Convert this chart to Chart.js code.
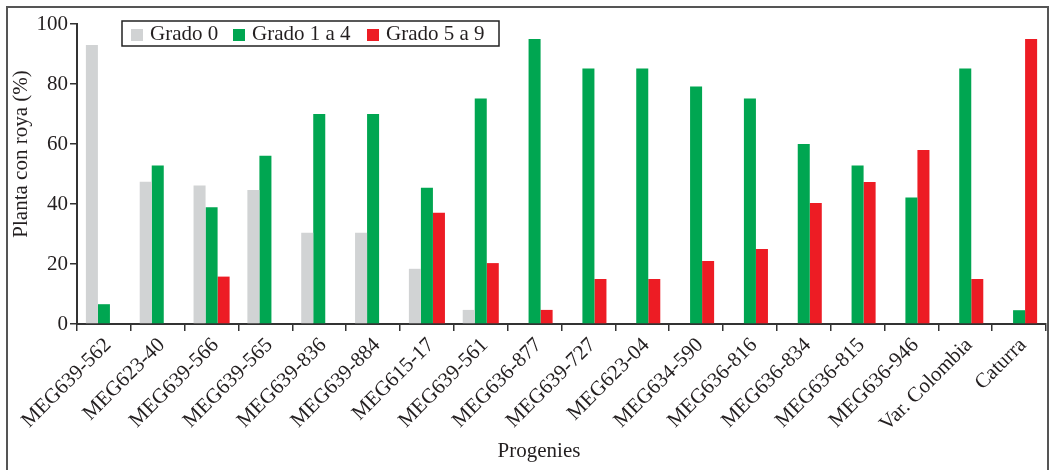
<!DOCTYPE html>
<html>
<head>
<meta charset="utf-8">
<script src="https://cdn.jsdelivr.net/npm/chart.js@4/dist/chart.umd.min.js"></script>
<style>
  html, body { margin: 0; padding: 0; background: #fff; overflow: hidden; }
  #wrap { position: relative; width: 1053px; height: 470px; }
  #frame { position: absolute; left: 6px; top: 6px; width: 1043px; height: 600px;
           border: 2px solid #555; box-sizing: border-box; }
  canvas { position: absolute; left: 0; top: 0; }
</style>
</head>
<body>
<div id="wrap">
  <div id="frame"></div>
  <canvas id="c" width="1053" height="470"></canvas>
</div>
<script>
// Progenies evaluated and share of plants with rust (%) per severity grade
const categories = [
  'MEG639-562', 'MEG623-40', 'MEG639-566', 'MEG639-565', 'MEG639-836',
  'MEG639-884', 'MEG615-17', 'MEG639-561', 'MEG636-877', 'MEG639-727',
  'MEG623-04', 'MEG634-590', 'MEG636-816', 'MEG636-834', 'MEG636-815',
  'MEG636-946', 'Var. Colombia', 'Caturra'
];
const grado0  = [93.0, 47.4, 46.2, 44.7, 30.4, 30.4, 18.4, 4.7, 0, 0, 0, 0, 0, 0, 0, 0, 0, 0];
const grado14 = [6.6, 52.8, 38.9, 56.1, 70.0, 70.0, 45.4, 75.2, 95.0, 85.2, 85.2, 79.2, 75.2, 60.0, 52.8, 42.2, 85.2, 4.6];
const grado59 = [0, 0, 15.8, 0, 0, 0, 37.1, 20.3, 4.7, 15.0, 15.0, 21.0, 25.0, 40.3, 47.3, 58.0, 15.0, 95.0];
const yTicks  = [0, 20, 40, 60, 80, 100];

const seriesNames = ['Grado 0', 'Grado 1 a 4', 'Grado 5 a 9'];
const seriesColors = ['#d1d3d4', '#00a651', '#ed1c24'];

const FONT = '"Liberation Serif", "Times New Roman", serif';
const INK = '#231f20';

// Boxed legend in the upper left of the plot and the two axis titles
const decorations = {
  id: 'decorations',
  afterDraw(chart) {
    const ctx = chart.ctx;
    const area = chart.chartArea;
    ctx.save();
    // legend box
    const bx = area.left + 45, by = area.top - 3, bw = 377, bh = 25;
    ctx.strokeStyle = '#222';
    ctx.lineWidth = 1.5;
    ctx.strokeRect(bx, by, bw, bh);
    ctx.font = '21px ' + FONT;
    ctx.textBaseline = 'middle';
    ctx.fillStyle = INK;
    const swX = [bx + 9, bx + 111, bx + 245];
    chart.data.datasets.forEach((ds, i) => {
      ctx.fillStyle = ds.backgroundColor;
      ctx.fillRect(swX[i], by + 8, 12, 12);
      ctx.fillStyle = INK;
      ctx.textAlign = 'left';
      ctx.fillText(ds.label, swX[i] + 19, by + 13);
    });
    // axis titles
    ctx.font = '21px ' + FONT;
    ctx.fillStyle = INK;
    ctx.textAlign = 'center';
    ctx.textBaseline = 'middle';
    ctx.fillText('Progenies', 539, 451);
    ctx.translate(21, 154);
    ctx.rotate(-Math.PI / 2);
    ctx.fillText('Planta con roya (%)', 0, 0);
    ctx.restore();
  }
};

new Chart(document.getElementById('c'), {
  type: 'bar',
  data: {
    labels: categories,
    datasets: [
      { label: seriesNames[0], data: grado0,  backgroundColor: seriesColors[0] },
      { label: seriesNames[1], data: grado14, backgroundColor: seriesColors[1] },
      { label: seriesNames[2], data: grado59, backgroundColor: seriesColors[2] }
    ]
  },
  options: {
    responsive: false,
    devicePixelRatio: 1,
    animation: false,
    layout: { padding: { left: 0, top: 24, right: 7, bottom: 0 } },
    datasets: { bar: { categoryPercentage: 0.67, barPercentage: 1.0, borderWidth: 0 } },
    plugins: { legend: { display: false }, tooltip: { enabled: false } },
    scales: {
      x: {
        offset: true,
        grid: { display: true, drawOnChartArea: false, offset: true, tickLength: 7,
                color: '#333', lineWidth: 1.5 },
        border: { display: true, color: '#333', width: 2 },
        ticks: { color: INK, font: { family: FONT, size: 21 }, minRotation: 45, maxRotation: 45,
                 autoSkip: false, padding: 2, labelOffset: 4 },
        afterFit(s) { s.height = 146; }
      },
      y: {
        min: 0, max: 100,
        afterBuildTicks(s) { s.ticks = yTicks.map(v => ({ value: v })); },
        grid: { display: true, drawOnChartArea: false, tickLength: 7, color: '#333', lineWidth: 1.5 },
        border: { display: true, color: '#333', width: 2 },
        ticks: { color: INK, font: { family: FONT, size: 21 }, padding: 2 },
        afterFit(s) { s.width = 77; }
      }
    }
  },
  plugins: [decorations]
});
</script>
</body>
</html>
